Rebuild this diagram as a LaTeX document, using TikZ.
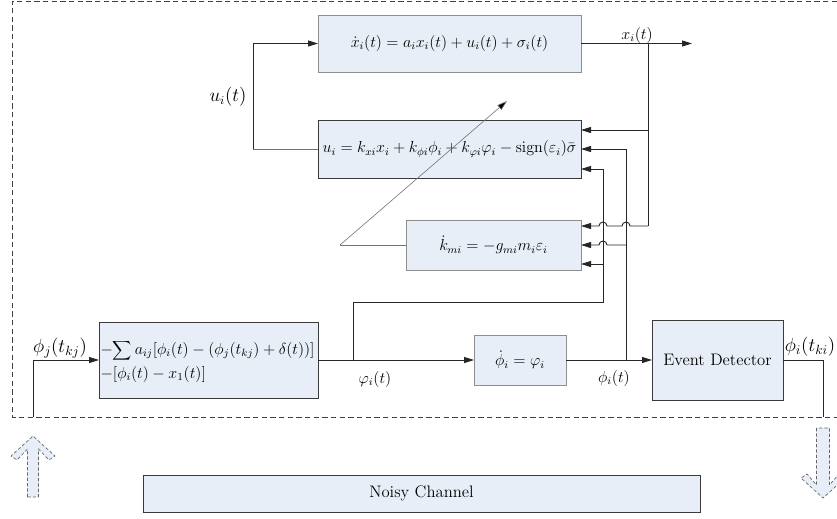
\documentclass[tikz,border=0pt]{standalone}
\usetikzlibrary{arrows.meta}
\definecolor{boxfill}{HTML}{E8EEF7}
\definecolor{bdgray}{HTML}{8E8E8E}
\definecolor{bddark}{HTML}{3A3A3A}
\begin{document}
\begin{tikzpicture}[x=0.75pt,y=-0.75pt,
  every node/.style={inner sep=0pt,outer sep=0pt},
  >={Triangle[length=7.5pt,width=4.5pt]},
  lightbox/.style={draw=bdgray,fill=boxfill,line width=0.7pt},
  darkbox/.style={draw=bddark,fill=boxfill,line width=0.7pt},
  wire/.style={draw=black!85,line width=0.7pt},
  thinwire/.style={draw=black!55,line width=0.45pt},
  eqfont/.style={font=\fontsize{12}{14}\selectfont},
  lblfont/.style={font=\fontsize{12}{14}\selectfont},
  hollow/.style={draw=black!60,fill=boxfill,line width=0.5pt,dash pattern=on 2.5pt off 1.5pt},
  frame/.style={draw=black!75,line width=0.6pt,dash pattern=on 4pt off 2.5pt}]
\useasboundingbox (0,0) rectangle (837,518);

% dashed frame
\draw[frame] (837,1) -- (12,1) -- (12,417) -- (837,417);

% boxes
\node[lightbox,minimum width=197.25pt,minimum height=42.75pt,eqfont] (xd) at (449.5,43.5)
  {$\dot{x}_i(t)=a_ix_i(t)+u_i(t)+\sigma_i(t)$};
\node[darkbox,minimum width=197.25pt,minimum height=43.5pt,eqfont] (ub) at (449.5,149)
  {$u_i=k_{xi}x_i+k_{\phi i}\phi_i+k_{\varphi i}\varphi_i-\mathrm{sign}(\varepsilon_i)\bar{\sigma}$};
\node[lightbox,minimum width=131.25pt,minimum height=37.5pt,eqfont] (kb) at (493.5,245)
  {$\dot{k}_{mi}=-g_{mi}m_i\varepsilon_i$};
\node[lightbox,minimum width=69pt,minimum height=37.5pt,eqfont] (pb) at (520,360)
  {$\dot{\phi}_i=\varphi_i$};
\node[darkbox,minimum width=98.25pt,minimum height=60pt,font=\fontsize{12.5}{14}\selectfont] (ed) at (717.5,360)
  {Event Detector};
\node[darkbox,minimum width=164.25pt,minimum height=57pt] (bb) at (208.5,360) {};
\node[anchor=west,align=left,eqfont] (bbt) at (100.5,361)
  {$\displaystyle -\!\sum a_{ij}[\phi_i(t)-(\phi_j(t_{kj})+\delta(t))]$\\[3pt]
   $-[\phi_i(t)-x_1(t)]$};
\node[darkbox,minimum width=417.75pt,minimum height=27.75pt,font=\fontsize{12.5}{14}\selectfont] (nc) at (421.5,493.5)
  {Noisy Channel};

% labels
\node[font=\fontsize{13.5}{15}\selectfont] (lu) at (228,97) {$u_i(t)$};
\node[lblfont] (lx) at (637,35) {$x_i(t)$};
\node[font=\fontsize{14.5}{16}\selectfont] (lpj) at (60,348) {$\phi_j(t_{kj})$};
\node[font=\fontsize{14.5}{16}\selectfont] (lpi) at (810,347) {$\phi_i(t_{ki})$};
\node[lblfont] (lvp) at (375,379) {$\varphi_i(t)$};
\node[lblfont] (lph) at (614,378) {$\phi_i(t)$};

% coordinates
\coordinate (uc) at (253,149);
\coordinate (xo) at (692,43.5);
\coordinate (xj) at (648,43.5);
\coordinate (xb) at (648,226);
\coordinate (pj) at (626,360);
\coordinate (pt) at (626,149);
\coordinate (pk) at (626,245);
\coordinate (vj) at (353,360);
\coordinate (vc) at (353,302);
\coordinate (vr) at (603,302);
\coordinate (vt) at (603,169);
\coordinate (vk) at (603,264);
\coordinate (kl) at (340,245);
\coordinate (kt) at (507,101);
\coordinate (inb) at (33,417);
\coordinate (inc) at (33,360);
\coordinate (edc) at (823,360);
\coordinate (edb) at (823,417);

% u -> xdot feedback
\draw[thinwire] (ub.west) -- (uc);
\draw[wire,->] (uc) |- (xd.west);
% x output and its feedback
\draw[wire,->] (xd.east) -- (xo);
\draw[wire] (xj) -- (xb);
\draw[wire,->] (648,130) -- (ub.east |- 0,130);
\draw[wire,->] (xb) -- (630,226) arc[start angle=0,end angle=180,radius=3pt]
  -- (607,226) arc[start angle=0,end angle=180,radius=3pt] -- (kb.east |- 0,226);
% phi feedback
\draw[wire] (pj) -- (pt);
\draw[wire,->] (pt) -- (ub.east |- pt);
\draw[wire,->] (pk) -- (607,245) arc[start angle=0,end angle=180,radius=3pt] -- (kb.east |- pk);
% varphi feedback
\draw[wire] (vj) -- (vc) -- (vr) -- (vt);
\draw[wire,->] (vt) -- (ub.east |- vt);
\draw[wire,->] (vk) -- (kb.east |- vk);
% adaptive gain arrow
\draw[thinwire] (kb.west) -- (kl);
\draw[thinwire,-{Triangle[length=7.5pt,width=4.5pt,fill=black]}] (kl) -- (kt);
% main signal path
\draw[wire,->] (bb.east) -- (pb.west);
\draw[wire,->] (pb.east) -- (ed.west);
\draw[wire,->] (inb) -- (inc) -- (bb.west);
\draw[wire] (ed.east) -- (edc) -- (edb);

% hollow channel arrows
\draw[hollow] (27.5,497) -- (27.5,449) -- (17,460) -- (11,456) -- (33,436) -- (55,456) -- (49,460) -- (38.5,449) -- (38.5,497) -- cycle;
\draw[hollow] (816.5,428) -- (816.5,485) -- (807,474) -- (801,478) -- (823,498) -- (845,478) -- (839,474) -- (829.5,485) -- (829.5,428) -- cycle;
\end{tikzpicture}
\end{document}
